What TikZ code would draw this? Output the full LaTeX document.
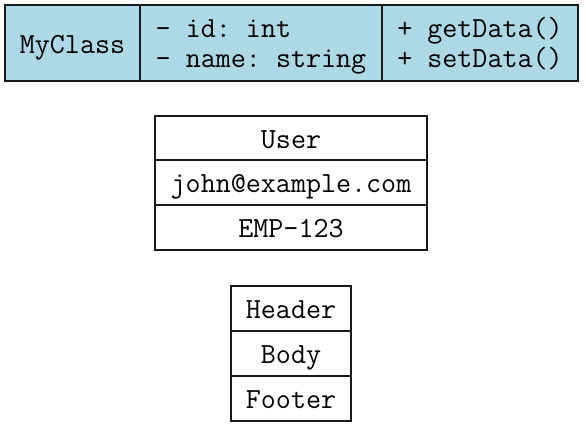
\documentclass[tikz,border=0pt]{standalone}
\usepackage{fontspec}
\definecolor{cellblue}{HTML}{ADD8E6}
\frenchspacing
\begin{document}
\begin{tikzpicture}[x=1pt,y=1pt,
  cell/.style={draw=black!90, line width=1.8pt, rectangle, inner sep=0pt, outer sep=0pt,
    font=\ttfamily\fontsize{29.2}{30}\selectfont, align=center,
    text height=22pt, text depth=1.4pt},
  twoline/.style={align=left, text height=52pt, text depth=2.6pt},
  bluecell/.style={cell, fill=cellblue},
  whitecell/.style={cell, fill=white}]
\useasboundingbox (0,0) rectangle (586,-431);
% top record
\node[bluecell, minimum width=135pt, minimum height=76pt] (cname) at (72.5,-43) {MyClass};
\node[bluecell, twoline, minimum width=242pt, minimum height=76pt] (cattr) at (261,-43) {- id: int\\- name: string};
\node[bluecell, twoline, minimum width=196pt, minimum height=76pt] (cmeth) at (480,-43) {+ getData()\\+ setData()};
% user record
\node[whitecell, minimum width=272pt, minimum height=44pt] (user) at (291,-138) {User};
\node[whitecell, minimum width=272pt, minimum height=45pt] (email) at (291,-182.5) {john@example.com};
\node[whitecell, minimum width=272pt, minimum height=45pt] (emp) at (291,-227.5) {EMP-123};
% header record
\node[whitecell, minimum width=120pt, minimum height=45pt] (header) at (291,-308.5) {Header};
\node[whitecell, minimum width=120pt, minimum height=45pt] (body) at (291,-353.5) {Body};
\node[whitecell, minimum width=120pt, minimum height=45pt] (footer) at (291,-398.5) {Footer};
\end{tikzpicture}
\end{document}
